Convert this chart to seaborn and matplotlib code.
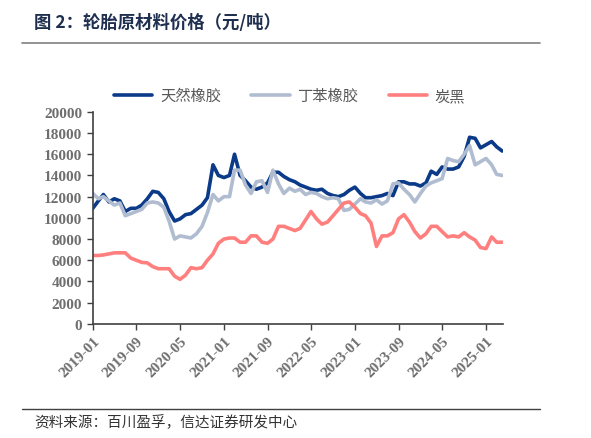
import pandas as pd
import matplotlib
matplotlib.use("Agg")
import matplotlib.pyplot as plt
import matplotlib.dates as mdates
import seaborn as sns

# 月度价格（元/吨），2019-01 至 2025-04
mois = pd.date_range("2019-01-01", "2025-04-01", freq="MS")

caoutchouc_naturel = [
    10900, 11600, 12200, 11500, 11800, 11600, 10600, 10900, 10900, 11200, 11800, 12500,
    12400, 11800, 10600, 9700, 9900, 10300, 10400, 10800, 11200, 11900, 15000, 14000,
    13800, 14000, 16000, 14000, 13500, 12900, 12700, 12900, 13300, 14300, 14300, 13900,
    13600, 13400, 13100, 12900, 12700, 12600, 12700, 12300, 12100, 12000, 12200, 12600,
    12900, 12300, 11900, 11900, 12000, 12100, 12300, 12100, 13400, 13400, 13200, 13200,
    13000, 13300, 14400, 14100, 14800, 14600, 14600, 14800, 15800, 17600, 17500, 16600,
    16900, 17200, 16700, 16300,
]
caoutchouc_sbr = [
    12300, 11800, 12000, 11600, 11200, 11400, 10200, 10400, 10600, 10800, 11400, 11500,
    11400, 11000, 9700, 8000, 8300, 8200, 8100, 8500, 9200, 10500, 12200, 11600,
    12000, 12000, 14500, 14500, 13100, 12300, 13400, 13500, 12400, 14500, 13200, 12300,
    12800, 12500, 12700, 12200, 12400, 12300, 12000, 11800, 11900, 11800, 10700, 10800,
    11300, 11800, 11500, 11400, 11700, 11300, 11600, 13200, 13300, 12700, 12200, 11500,
    12300, 13000, 13300, 13500, 13700, 15600, 15400, 15300, 16000, 16800, 15000, 15300,
    15600, 15000, 14100, 14000,
]
noir_carbone = [
    6450, 6450, 6500, 6600, 6700, 6700, 6700, 6200, 6000, 5800, 5750, 5400,
    5200, 5200, 5200, 4500, 4200, 4600, 5300, 5200, 5300, 6000, 6600, 7600,
    8000, 8100, 8100, 7700, 7700, 8300, 8300, 7700, 7600, 8000, 9200, 9200,
    9000, 8800, 9000, 9800, 10600, 9900, 9400, 9600, 10200, 10800, 11400, 11500,
    11000, 10400, 10200, 9500, 7300, 8300, 8300, 8600, 9900, 10300, 9600, 8700,
    8100, 8500, 9200, 9200, 8700, 8200, 8300, 8200, 8600, 8200, 7900, 7200,
    7100, 8200, 7700, 7700,
]

series = ["天然橡胶", "丁苯橡胶", "炭黑"]
couleurs = ["#0B3A88", "#B0BCD0", "#FF7F7F"]

df = pd.DataFrame({
    "date": list(mois) * 3,
    "prix": caoutchouc_naturel + caoutchouc_sbr + noir_carbone,
    "serie": [s for s in series for _ in mois],
})

sns.set_style("ticks")
plt.rcParams["font.family"] = ["Noto Sans CJK SC", "DejaVu Sans"]

fig = plt.figure(figsize=(5.91, 4.39), dpi=100)
ax = fig.add_axes([0.157, 0.26, 0.694, 0.483])

sns.lineplot(data=df, x="date", y="prix", hue="serie", hue_order=series,
             palette=couleurs, linewidth=2.6, ax=ax, legend=False)

ax.set_xlim(pd.Timestamp("2019-01-01"), pd.Timestamp("2025-04-05"))
ax.set_ylim(0, 20000)
ax.set_yticks(range(0, 20001, 2000))
ticks = pd.date_range("2019-01-01", "2025-01-01", freq="8MS")
ax.set_xticks(ticks)
ax.xaxis.set_major_formatter(mdates.DateFormatter("%Y-%m"))
ax.set_xlabel("")
ax.set_ylabel("")

for s in ["top", "right"]:
    ax.spines[s].set_visible(False)
for s in ["left", "bottom"]:
    ax.spines[s].set_color("#404040")
    ax.spines[s].set_linewidth(1.2)
ax.tick_params(axis="both", length=4, width=1.0, color="#404040")

for lab in ax.get_yticklabels():
    lab.set_fontfamily("Liberation Serif")
    lab.set_fontweight("bold")
    lab.set_fontsize(11)
    lab.set_color("#6E6E6E")
for lab in ax.get_xticklabels():
    lab.set_fontfamily("Liberation Serif")
    lab.set_fontweight("bold")
    lab.set_fontsize(11)
    lab.set_color("#6E6E6E")
    lab.set_rotation(45)
    lab.set_ha("right")
    lab.set_rotation_mode("anchor")

# légende
handles = [plt.Line2D([], [], color=c, linewidth=2.6) for c in couleurs]
fig.legend(handles, series, loc="center", bbox_to_anchor=(0.49, 0.78), ncol=3,
           frameon=False, fontsize=11, handlelength=2.5, columnspacing=2.0,
           handletextpad=0.5, labelcolor="#595959")

# titre et source
fig.text(0.058, 0.948, "图 2：轮胎原材料价格（元/吨）", fontsize=12.5, fontweight="bold",
         color="#1F2F4F", va="center", ha="left")
fig.add_artist(plt.Line2D([0.037, 0.913], [0.900, 0.900], color="#808080", linewidth=1.2))
fig.add_artist(plt.Line2D([0.037, 0.913], [0.066, 0.066], color="#404040", linewidth=1.0))
fig.text(0.058, 0.038, "资料来源：百川盈孚，信达证券研发中心", fontsize=10.5, style="italic",
         color="#333333", va="center", ha="left")

fig.savefig("out.png", dpi=100)
